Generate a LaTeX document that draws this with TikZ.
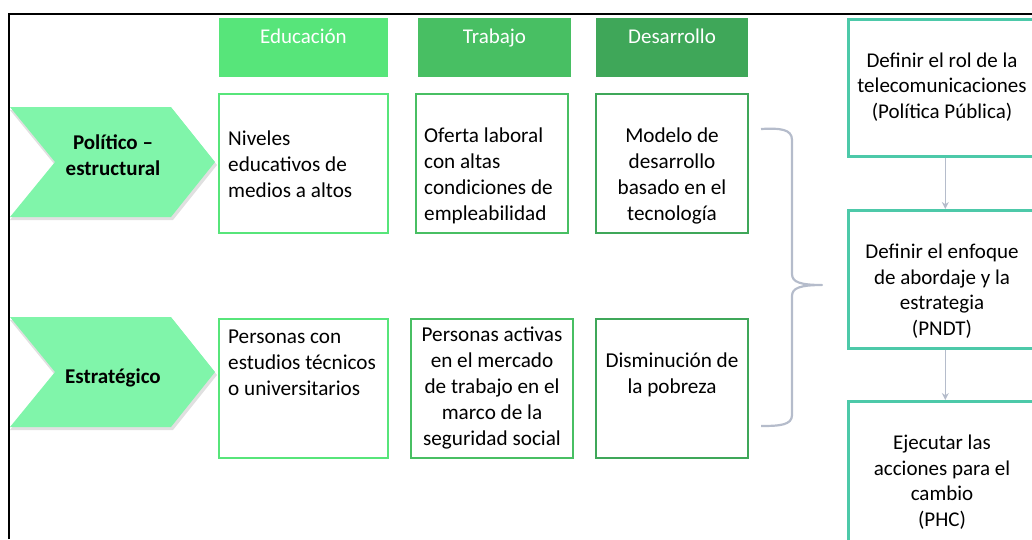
\documentclass[tikz,border=0pt]{standalone}
\usepackage{fontspec}
\setmainfont{Carlito}
\definecolor{hdA}{HTML}{57E57A}
\definecolor{hdB}{HTML}{48BF63}
\definecolor{hdC}{HTML}{3FA759}
\definecolor{chev}{HTML}{80F5AA}
\definecolor{teal}{HTML}{4DC9A9}
\definecolor{grayarr}{HTML}{B5BCCB}
\tikzset{
  hdr/.style={fill=#1, draw=none},
  cell/.style={draw=#1, line width=2.6pt, fill=white},
  rbox/.style={draw=teal, line width=2.6pt, fill=white},
  rowtxt/.style={font=\fontsize{21.2}{26}\selectfont, inner sep=0pt},
  rtxt/.style={font=\fontsize{21}{25.5}\selectfont, inner sep=0pt, align=center},
  htxt/.style={font=\fontsize{21}{25}\selectfont, text=white, inner sep=0pt, anchor=base},
  ctxt/.style={font=\fontsize{21}{26}\selectfont\bfseries, inner sep=0pt, align=center},
  arr/.style={draw=grayarr, line width=1.6pt, -{Stealth[length=7pt,width=7pt]}},
}
\usetikzlibrary{arrows.meta}
\begin{document}
\begin{tikzpicture}[x=1pt,y=-1pt]
\useasboundingbox (0,0) rectangle (1032,539);
% frame
\draw[line width=2.6pt] (9,539) -- (9,14) -- (1040,14);
% headers
\path[hdr=hdA] (219,18) rectangle (388,77);
\path[hdr=hdB] (418,18) rectangle (571,77);
\path[hdr=hdC] (596,18) rectangle (748,77);
\node[htxt] (hEdu) at (303.5,43) {Educación};
\node[htxt] (hTra) at (494.5,43) {Trabajo};
\node[htxt] (hDes) at (672,43) {Desarrollo};
% chevrons with shadow
\fill[black!12] (10,110) -- (173,110) -- (217,165) -- (173,220) -- (10,220) -- (55,165) -- cycle;
\fill[chev] (10,107) -- (171,107) -- (215,162) -- (171,217) -- (10,217) -- (55,162) -- cycle;
\fill[black!12] (10,320) -- (173,320) -- (217,375) -- (173,430) -- (10,430) -- (55,375) -- cycle;
\fill[chev] (10,317) -- (171,317) -- (215,372) -- (171,427) -- (10,427) -- (55,372) -- cycle;
\node[ctxt] (cPol) at (113,155) {Político –\\estructural};
\node[ctxt] (cEst) at (113,378) {Estratégico};
% row 1 boxes
\draw[cell=hdA] (219,94) rectangle (388,233);
\draw[cell=hdB] (416,94) rectangle (568,233);
\draw[cell=hdC] (596,94) rectangle (748,233);
\node[rowtxt, align=left, anchor=west] (tNiv) at (228,164) {Niveles\\educativos de\\medios a altos};
\node[rowtxt, align=left, anchor=west] (tOfe) at (424,176) {Oferta laboral\\con altas\\condiciones de\\empleabilidad};
\node[rowtxt, align=center] (tMod) at (672,176) {Modelo de\\desarrollo\\basado en el\\tecnología};
% row 2 boxes
\draw[cell=hdA] (219,319) rectangle (388,458);
\draw[cell=hdB] (411,319) rectangle (573,458);
\draw[cell=hdC] (596,319) rectangle (748,458);
\node[rowtxt, align=left, anchor=west] (tPer) at (228,363) {Personas con\\estudios técnicos\\o universitarios};
\node[rowtxt, align=center] (tAct) at (492,388) {Personas activas\\en el mercado\\de trabajo en el\\marco de la\\seguridad social};
\node[rowtxt, align=center] (tDis) at (672,375) {Disminución de\\la pobreza};
% brace
\coordinate (bTop) at (761,129);
\coordinate (bTip) at (822,285);
\coordinate (bBot) at (761,426);
\draw[draw=grayarr, line width=2.2pt, line join=round]
  (bTop) .. controls (780,128) and (792,129) .. (792,140)
  -- (792,274) .. controls (792,282) and (800,285) .. (bTip)
  .. controls (800,285) and (792,288) .. (792,296)
  -- (792,415) .. controls (792,425) and (780,426) .. (bBot);
% right boxes
\node[rbox, minimum width=194pt, minimum height=137pt, anchor=north west] (r1) at (847,18) {};
\node[rbox, minimum width=194pt, minimum height=138pt, anchor=north west] (r2) at (847,209) {};
\node[rbox, minimum width=194pt, minimum height=160pt, anchor=north west] (r3) at (847,400) {};
\node[rtxt] (r1t) at (942,87) {Definir el rol de la\\telecomunicaciones\\(Política Pública)};
\node[rtxt] (r2t) at (942,291) {Definir el enfoque\\de abordaje y la\\estrategia\\(PNDT)};
\node[rtxt] (r3t) at (942,482) {Ejecutar las\\acciones para el\\cambio\\(PHC)};
\draw[arr] (r1.south) -- (r2.north);
\draw[arr] (r2.south) -- (r3.north);
\end{tikzpicture}
\end{document}
